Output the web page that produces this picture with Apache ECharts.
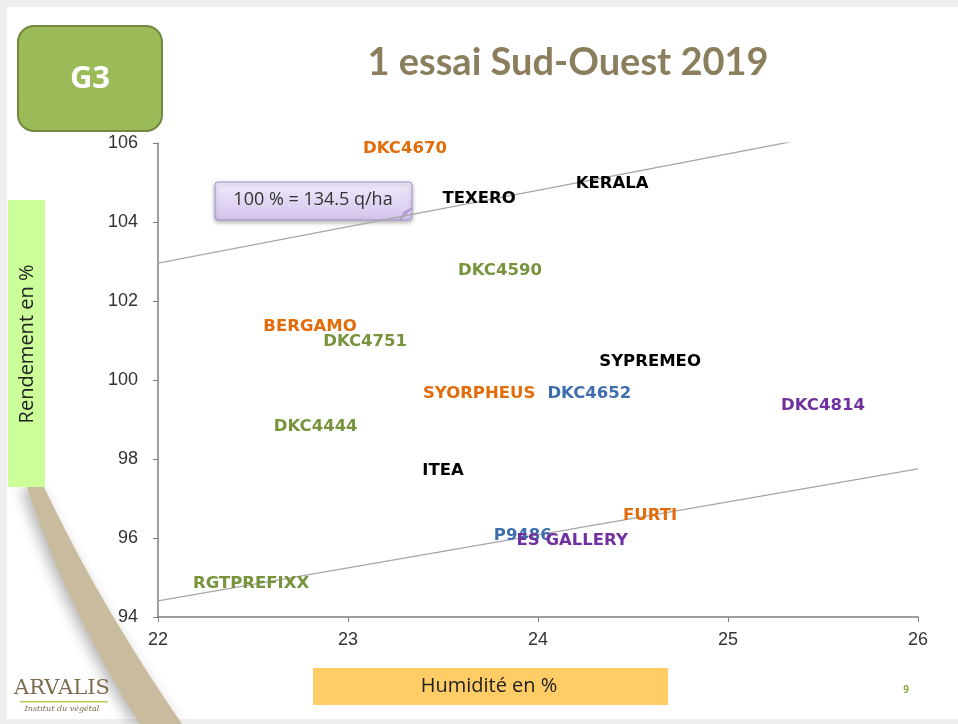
<!DOCTYPE html>
<html>
<head>
<meta charset="utf-8">
<script src="https://cdn.jsdelivr.net/npm/echarts@6/dist/echarts.min.js"></script>
<style>
  html, body { margin: 0; padding: 0; background: #efefef; }
  #main { width: 958px; height: 724px; }
</style>
</head>
<body>
<div id="main"></div>
<script>
// varietes (etiquettes) et valeurs
var varietes = ['DKC4670', 'TEXERO', 'KERALA', 'DKC4590', 'BERGAMO', 'DKC4751', 'SYPREMEO',
                'SYORPHEUS', 'DKC4652', 'DKC4814', 'DKC4444', 'ITEA', 'FURTI', 'P9486',
                'ES GALLERY', 'RGTPREFIXX'];
var humidite = [23.30, 23.69, 24.39, 23.80, 22.80, 23.09, 24.59,
                23.69, 24.27, 25.50, 22.83, 23.50, 24.59, 23.92,
                24.18, 22.49];
var rendement = [105.85, 104.58, 104.96, 102.76, 101.34, 100.96, 100.46,
                 99.65, 99.65, 99.34, 98.81, 97.70, 96.56, 96.05,
                 95.92, 94.84];
var couleurs = ['#e36c0a', '#000000', '#000000', '#77933c', '#e36c0a', '#77933c', '#000000',
                '#e36c0a', '#3f6eae', '#7030a0', '#77933c', '#000000', '#e36c0a', '#3f6eae',
                '#7030a0', '#77933c'];

// droites de reference
var droiteHautX = [22, 25.33];
var droiteHautY = [102.96, 106.03];
var droiteBasX = [22, 26];
var droiteBasY = [94.41, 97.75];

var xTicks = [22, 23, 24, 25, 26];
var yTicks = [94, 96, 98, 100, 102, 104, 106];

var chart = echarts.init(document.getElementById('main'));

var points = varietes.map(function (n, i) {
    return {
        name: n,
        value: [humidite[i], rendement[i]],
        label: { color: couleurs[i] }
    };
});

// bande decorative (courbe du theme de la diapo)
function quad(p0, p1, p2, n) {
    var out = [];
    for (var k = 0; k <= n; k++) {
        var t = k / n;
        out.push([
            (1 - t) * (1 - t) * p0[0] + 2 * (1 - t) * t * p1[0] + t * t * p2[0],
            (1 - t) * (1 - t) * p0[1] + 2 * (1 - t) * t * p1[1] + t * t * p2[1]
        ]);
    }
    return out;
}
var bande = quad([27, 487], [70, 615], [140, 724], 30)
    .concat(quad([182, 724], [100, 605], [44, 487], 30));

var option = {
    backgroundColor: '#efefef',
    animation: false,
    grid: { left: 158, right: 40, top: 143, bottom: 107 },
    xAxis: {
        type: 'value',
        min: xTicks[0],
        max: xTicks[xTicks.length - 1],
        interval: 1,
        splitLine: { show: false },
        axisLine: { lineStyle: { color: '#7f7f7f', width: 1.5 } },
        axisTick: { length: 5, lineStyle: { color: '#7f7f7f' } },
        axisLabel: { color: '#333', fontSize: 18, fontFamily: 'Liberation Sans', margin: 14 }
    },
    yAxis: {
        type: 'value',
        min: yTicks[0],
        max: yTicks[yTicks.length - 1],
        interval: 2,
        splitLine: { show: false },
        axisLine: { show: true, lineStyle: { color: '#7f7f7f', width: 1.5 } },
        axisTick: { show: true, length: 5, lineStyle: { color: '#7f7f7f' } },
        axisLabel: { color: '#333', fontSize: 18, fontFamily: 'Liberation Sans', margin: 20 }
    },
    graphic: [
        // cadre blanc de la diapo
        { type: 'rect', z: -20, shape: { x: 7, y: 7, width: 951, height: 712 }, style: { fill: '#ffffff' } },
        // courbe decorative
        { type: 'polygon', z: -10,
          shape: { points: bande },
          style: { fill: '#c9bb9d', shadowBlur: 14, shadowColor: 'rgba(0,0,0,0.3)', shadowOffsetX: -6 } },
        // boite G3
        { type: 'rect', shape: { x: 18, y: 26, width: 144, height: 105, r: 16 },
          style: { fill: '#9bbb59', stroke: '#71893f', lineWidth: 2 } },
        { type: 'text', x: 90, y: 79,
          style: { text: 'G3', fill: '#fff', font: 'bold 31px "Open Sans"', align: 'center', verticalAlign: 'middle' } },
        // titre
        { type: 'text', x: 568, y: 63,
          style: { text: '1 essai Sud-Ouest 2019', fill: '#8b7e5c', font: 'bold 38px Lato', align: 'center', verticalAlign: 'middle' } },
        // boite titre axe Y
        { type: 'rect', shape: { x: 8, y: 200, width: 37, height: 287 }, style: { fill: '#ccff99' } },
        { type: 'text', x: 27, y: 344, rotation: Math.PI / 2,
          style: { text: 'Rendement en %', fill: '#222', font: '20px "Open Sans"', align: 'center', verticalAlign: 'middle' } },
        // boite titre axe X
        { type: 'rect', shape: { x: 313, y: 668, width: 355, height: 37 }, style: { fill: '#ffcc66' } },
        { type: 'text', x: 489, y: 686,
          style: { text: 'Humidité en %', fill: '#222', font: '20px "Open Sans"', align: 'center', verticalAlign: 'middle' } },
        // bulle 100 %
        { type: 'rect', shape: { x: 215, y: 182, width: 197, height: 38, r: 3 },
          style: {
              fill: { type: 'linear', x: 0, y: 0, x2: 0, y2: 1,
                      colorStops: [{ offset: 0, color: '#f1ebfb' }, { offset: 1, color: '#d3c3ec' }] },
              stroke: '#a693cf', lineWidth: 1,
              shadowBlur: 4, shadowColor: 'rgba(0,0,0,0.3)', shadowOffsetY: 2
          } },
        { type: 'polygon', shape: { points: [[400, 220], [412, 208], [404, 212]] },
          style: { fill: '#b7a4d9', stroke: '#a693cf', lineWidth: 1 } },
        { type: 'text', x: 313, y: 200,
          style: { text: '100 % = 134.5 q/ha', fill: '#333', font: '18px "Open Sans"', align: 'center', verticalAlign: 'middle' } },
        // logo
        { type: 'text', x: 62, y: 689,
          style: { text: 'ARVALIS', fill: '#7d6b4c', font: '21px "DejaVu Serif"', align: 'center', verticalAlign: 'middle' } },
        { type: 'rect', shape: { x: 20, y: 701, width: 88, height: 1.5 }, style: { fill: '#b5cf5a' } },
        { type: 'text', x: 62, y: 709,
          style: { text: 'Institut du végétal', fill: '#7d6b4c', font: 'italic 8px "DejaVu Serif"', align: 'center', verticalAlign: 'middle' } },
        // numero de page
        { type: 'text', x: 906, y: 690,
          style: { text: '9', fill: '#8aa84a', font: 'bold 10px "Open Sans"', align: 'center', verticalAlign: 'middle' } }
    ],
    series: [
        {
            type: 'line',
            data: droiteHautX.map(function (x, i) { return [x, droiteHautY[i]]; }),
            symbol: 'none',
            silent: true,
            lineStyle: { color: '#a6a6a6', width: 1.2 }
        },
        {
            type: 'line',
            data: droiteBasX.map(function (x, i) { return [x, droiteBasY[i]]; }),
            symbol: 'none',
            silent: true,
            lineStyle: { color: '#a6a6a6', width: 1.2 }
        },
        {
            type: 'scatter',
            data: points,
            symbolSize: 1,
            itemStyle: { color: 'rgba(0,0,0,0)', opacity: 1 },
            z: 5,
            label: {
                show: true,
                position: 'inside',
                formatter: '{b}',
                fontFamily: 'DejaVu Sans',
                fontWeight: 'bold',
                fontSize: 16.5
            }
        }
    ]
};

chart.setOption(option);
</script>
</body>
</html>
